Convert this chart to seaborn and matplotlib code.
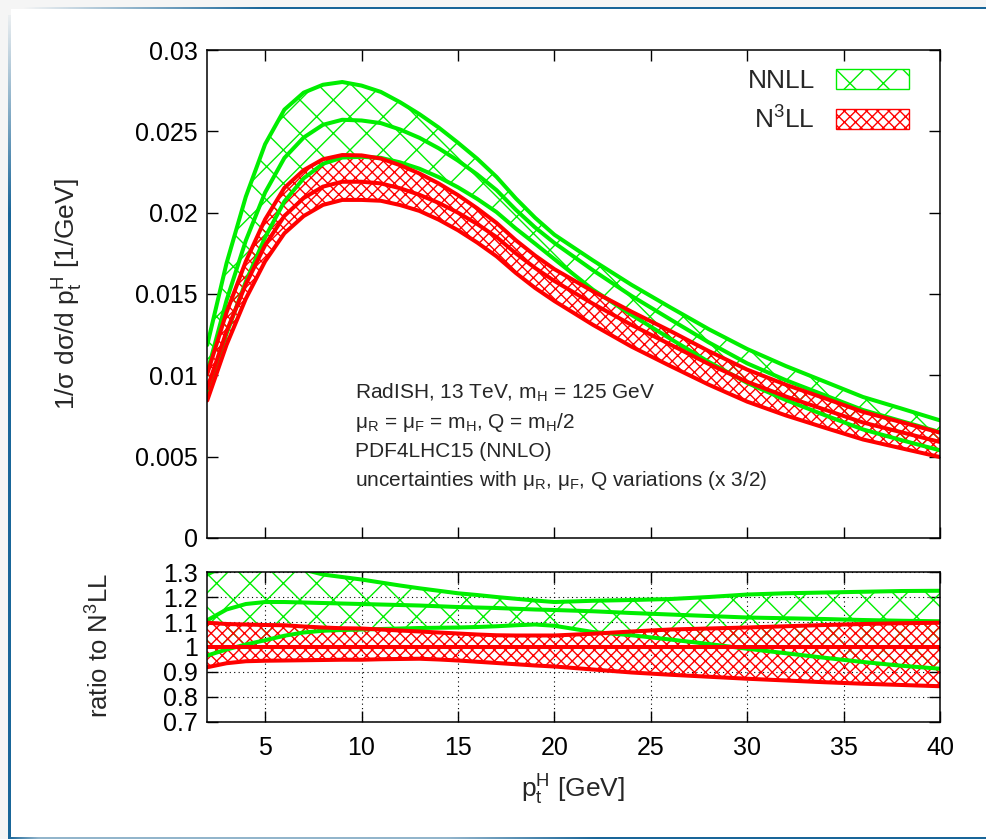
import numpy as np
import seaborn as sns
import matplotlib.pyplot as plt
from matplotlib.patches import Patch, Rectangle

# p_t^H grid [GeV]
pt = [2, 3, 4, 5, 6, 7, 8, 9, 10, 11, 12, 13, 14, 15, 16, 17, 18, 19, 20,
      22, 24, 26, 28, 30, 32, 34, 36, 38, 40]

# N3LL central prediction, 1/sigma dsigma/dpt [1/GeV]
n3ll_central = [0.0092, 0.0127, 0.0156, 0.0180, 0.0198, 0.0209, 0.0216, 0.0219, 0.0219,
                0.0218, 0.0215, 0.0211, 0.0206, 0.0200, 0.0193, 0.0185, 0.0175, 0.0166,
                0.0158, 0.0144, 0.0131, 0.0119, 0.0107, 0.0096, 0.0087, 0.0079, 0.0071,
                0.0065, 0.0059]

# ratios to N3LL central (lower panel)
n3ll_hi_ratio = [1.097, 1.092, 1.090, 1.088, 1.087, 1.082, 1.078, 1.075, 1.074, 1.070,
                 1.066, 1.062, 1.058, 1.054, 1.050, 1.047, 1.046, 1.046, 1.046, 1.053,
                 1.062, 1.070, 1.074, 1.078, 1.083, 1.088, 1.092, 1.095, 1.097]
n3ll_lo_ratio = [0.919, 0.935, 0.943, 0.945, 0.946, 0.947, 0.948, 0.949, 0.949, 0.951,
                 0.952, 0.953, 0.950, 0.946, 0.941, 0.936, 0.931, 0.926, 0.922, 0.910,
                 0.898, 0.889, 0.881, 0.873, 0.866, 0.859, 0.853, 0.848, 0.843]
nnll_hi_ratio = [1.290, 1.330, 1.345, 1.345, 1.330, 1.310, 1.290, 1.280, 1.270, 1.258,
                 1.246, 1.235, 1.225, 1.215, 1.208, 1.200, 1.193, 1.186, 1.180, 1.185,
                 1.188, 1.192, 1.200, 1.210, 1.215, 1.218, 1.221, 1.224, 1.225]
nnll_c_ratio = [1.107, 1.150, 1.172, 1.180, 1.180, 1.178, 1.176, 1.174, 1.172, 1.170,
                1.168, 1.166, 1.163, 1.160, 1.158, 1.156, 1.153, 1.150, 1.148, 1.143,
                1.136, 1.130, 1.124, 1.118, 1.115, 1.112, 1.108, 1.105, 1.103]
nnll_lo_ratio = [0.966, 0.990, 1.010, 1.027, 1.045, 1.058, 1.065, 1.068, 1.070, 1.072,
                 1.074, 1.076, 1.077, 1.078, 1.080, 1.083, 1.087, 1.090, 1.085, 1.060,
                 1.047, 1.030, 1.012, 0.993, 0.975, 0.957, 0.940, 0.925, 0.913]
n3ll_c_ratio = [1.0] * len(pt)

x_ticks = [5, 10, 15, 20, 25, 30, 35, 40]
top_yticks = [0, 0.005, 0.01, 0.015, 0.02, 0.025, 0.03]
top_ylabels = ['0', '0.005', '0.01', '0.015', '0.02', '0.025', '0.03']
bot_yticks = [0.7, 0.8, 0.9, 1.0, 1.1, 1.2, 1.3]
bot_ylabels = ['0.7', '0.8', '0.9', '1', '1.1', '1.2', '1.3']

info_lines = ['RadISH, 13 TeV, m$_H$ = 125 GeV',
              'μ$_R$ = μ$_F$ = m$_H$, Q = m$_H$/2',
              'PDF4LHC15 (NNLO)',
              'uncertainties with μ$_R$, μ$_F$, Q variations (x 3/2)']

central = np.array(n3ll_central)
bands = {
    'NNLL': dict(lo=np.array(nnll_lo_ratio), c=np.array(nnll_c_ratio), hi=np.array(nnll_hi_ratio),
                 color='#00ee00', hatch='x'),
    'N$^3$LL': dict(lo=np.array(n3ll_lo_ratio), c=np.array(n3ll_c_ratio), hi=np.array(n3ll_hi_ratio),
                    color='#ff0000', hatch='xxx'),
}

sns.set_theme(style='ticks')
plt.rcParams['font.family'] = ['Liberation Sans', 'DejaVu Sans']
plt.rcParams['mathtext.default'] = 'regular'
plt.rcParams['hatch.linewidth'] = 1.0

fig = plt.figure(figsize=(9.86, 8.39), dpi=100)
fig.patch.set_facecolor('#f5f5f5')

# slide frame behind the plot
bg = fig.add_axes([0, 0, 1, 1], zorder=-10)
bg.axis('off')
bg.add_patch(Rectangle((11, 9), 975, 828, facecolor='white', edgecolor='none'))
blue = np.array([0.10, 0.40, 0.60])
top_band = np.ones((1, 400, 4))
top_band[..., :3] = blue
top_band[0, :, 3] = np.clip(np.linspace(0, 4, 400), 0, 1)
bg.imshow(top_band, extent=(22, 986, 16, 7), aspect='auto', interpolation='bilinear')
left_band = np.ones((300, 1, 4))
left_band[..., :3] = blue
left_band[:, 0, 3] = np.clip(np.linspace(0.05, 4.0, 300), 0, 1)
bg.imshow(left_band, extent=(8, 14, 836, 15), aspect='auto', interpolation='bilinear')
bot_band = np.ones((1, 400, 4))
bot_band[..., :3] = blue
bot_band[0, :, 3] = np.interp(np.linspace(0, 1, 400), [0, 0.03, 0.45, 0.6, 1], [1, 0.45, 0.45, 1, 1])
bg.imshow(bot_band, extent=(8, 986, 839, 835), aspect='auto', interpolation='bilinear')
bg.set_xlim(0, 986)
bg.set_ylim(839, 0)

ax = fig.add_axes([0.2102, 0.3588, 0.7432, 0.5816])
axr = fig.add_axes([0.2102, 0.1395, 0.7432, 0.1787])

for name, b in bands.items():
    ax.fill_between(pt, central * b['lo'], central * b['hi'], facecolor='none',
                    edgecolor=b['color'], hatch=b['hatch'], linewidth=0)
    axr.fill_between(pt, b['lo'], b['hi'], facecolor='none',
                     edgecolor=b['color'], hatch=b['hatch'], linewidth=0)
    for key in ['lo', 'c', 'hi']:
        sns.lineplot(x=pt, y=central * b[key], ax=ax, color=b['color'], lw=2.9)
        sns.lineplot(x=pt, y=b[key], ax=axr, color=b['color'], lw=2.9)

for a in [ax, axr]:
    a.set_xlim(2, 40)
    a.set_xticks(x_ticks)
    a.tick_params(direction='in', top=True, right=True, length=8, width=1.0,
                  labelsize=18, colors='black', pad=7)
    a.set_xlabel('')
    a.set_ylabel('')
    for s in a.spines.values():
        s.set_linewidth(1.1)
        s.set_color('black')

ax.set_ylim(0, 0.03)
ax.set_yticks(top_yticks)
ax.set_yticklabels(top_ylabels)
ax.set_xticklabels([])

axr.set_ylim(0.7, 1.3)
axr.set_yticks(bot_yticks)
axr.set_yticklabels(bot_ylabels)
axr.tick_params(axis='x', pad=10)
axr.grid(True, color='black', linestyle=(0, (1, 3)), linewidth=0.8)

handles = [Patch(facecolor='none', edgecolor=b['color'], hatch=b['hatch'], lw=1.0) for b in bands.values()]
ax.legend(handles, list(bands.keys()), loc='upper right', bbox_to_anchor=(0.957, 0.962),
          frameon=False, markerfirst=False, fontsize=19, handlelength=2.75,
          handleheight=0.8, labelspacing=0.5, handletextpad=0.8, borderpad=0,
          borderaxespad=0)

for line, yb in zip(info_lines, [0.2848, 0.2254, 0.166, 0.1066]):
    ax.text(0.202, yb, line, transform=ax.transAxes, fontsize=15, va='baseline', ha='left')

fig.text(0.069, 0.6496, '1/σ dσ/d p$_t^H$ [1/GeV]', rotation=90, fontsize=19,
         ha='center', va='center')
fig.text(0.1014, 0.2312, 'ratio to N$^3$LL', rotation=90, fontsize=18.5,
         ha='center', va='center')
fig.text(0.581, 0.058, 'p$_t^H$ [GeV]', fontsize=19, ha='center', va='center')

fig.savefig('out.png', dpi=100, facecolor=fig.get_facecolor())
